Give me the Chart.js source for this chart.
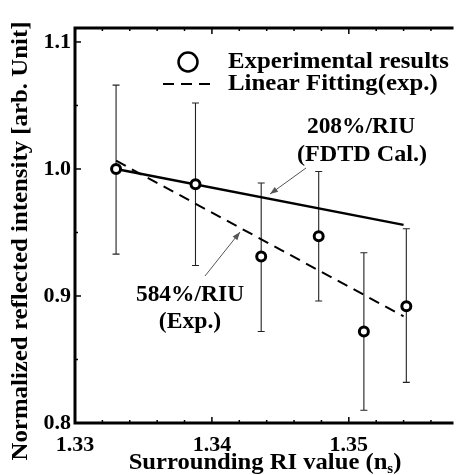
<!DOCTYPE html>
<html>
<head>
<meta charset="utf-8">
<script src="https://cdn.jsdelivr.net/npm/chart.js@4/dist/chart.umd.min.js"></script>
<style>
  html, body { margin: 0; padding: 0; background: #fff; overflow: hidden; }
  #wrap { width: 459px; height: 475px; position: relative; }
</style>
</head>
<body>
<div id="wrap"><canvas id="c"></canvas></div>
<script>
// Measured reflected intensity versus surrounding refractive index
const riValues   = [1.333, 1.3388, 1.3436, 1.3478, 1.3511, 1.3542];
const intensity  = [1.000, 0.988, 0.931, 0.947, 0.872, 0.892];
const errUpper   = [1.066, 1.052, 0.989, 0.998, 0.934, 0.953];
const errLower   = [0.933, 0.924, 0.872, 0.896, 0.810, 0.832];

// FDTD calculation (208%/RIU) and linear fit of the experiment (584%/RIU)
const fdtdX = [1.333, 1.354];
const fdtdY = [1.000, 0.956];
const fitX  = [1.333, 1.354];
const fitY  = [1.0065, 0.884];

// Axis ticks
const xTicks = [1.33, 1.34, 1.35];
const yTicks = [0.8, 0.9, 1.0, 1.1];
const xMinorStep = 0.002;
const yMinorStep = 0.05;

const FONT = '"Liberation Serif", "Times New Roman", serif';

const toPoints = (xs, ys) => xs.map((x, i) => ({ x: x, y: ys[i] }));

// text drawn with a slight horizontal stretch (wide book-style serif look)
function stretchedText(ctx, text, x, y, align, sx) {
  ctx.save();
  ctx.translate(x, y);
  ctx.scale(sx, 1);
  ctx.textAlign = align;
  ctx.fillText(text, 0, 0);
  ctx.restore();
}

// Error bars, frame, inward ticks, legend, axis titles and annotations
const decorations = {
  id: 'decorations',
  beforeDatasetsDraw(chart) {
    const ctx = chart.ctx;
    const xs = chart.scales.x, ys = chart.scales.y;
    ctx.save();
    ctx.strokeStyle = '#222';
    ctx.lineWidth = 1.1;
    riValues.forEach((v, i) => {
      const px = xs.getPixelForValue(v);
      const top = ys.getPixelForValue(errUpper[i]);
      const bot = ys.getPixelForValue(errLower[i]);
      ctx.beginPath();
      ctx.moveTo(px, top); ctx.lineTo(px, bot);
      ctx.moveTo(px - 3.5, top); ctx.lineTo(px + 3.5, top);
      ctx.moveTo(px - 3.5, bot); ctx.lineTo(px + 3.5, bot);
      ctx.stroke();
    });
    ctx.restore();
  },
  afterDraw(chart) {
    const ctx = chart.ctx;
    const a = chart.chartArea;
    const xs = chart.scales.x, ys = chart.scales.y;
    ctx.save();

    // frame: left, bottom, top
    ctx.strokeStyle = '#000';
    ctx.lineWidth = 3;
    ctx.beginPath();
    ctx.moveTo(a.right + 2, a.top);
    ctx.lineTo(a.left, a.top);
    ctx.lineTo(a.left, a.bottom);
    ctx.lineTo(a.right + 2, a.bottom);
    ctx.stroke();

    // inward ticks on bottom and top
    ctx.lineWidth = 1.5;
    for (let k = 0; ; k++) {
      const v = xs.min + k * xMinorStep;
      if (v > xs.max + 1e-9) break;
      const major = xTicks.some(t => Math.abs(t - v) < 1e-6);
      const len = major ? 6 : 3;
      const px = xs.getPixelForValue(v);
      ctx.beginPath();
      ctx.moveTo(px, a.bottom); ctx.lineTo(px, a.bottom - len);
      ctx.moveTo(px, a.top); ctx.lineTo(px, a.top + len);
      ctx.stroke();
    }
    // inward ticks on the left
    for (let k = 0; ; k++) {
      const v = ys.min + k * yMinorStep;
      if (v > ys.max + 1e-9) break;
      const major = yTicks.some(t => Math.abs(t - v) < 1e-6);
      const len = major ? 6 : 3;
      const py = ys.getPixelForValue(v);
      ctx.beginPath();
      ctx.moveTo(a.left, py); ctx.lineTo(a.left + len, py);
      ctx.stroke();
    }

    // legend
    ctx.fillStyle = '#000';
    ctx.strokeStyle = '#000';
    ctx.lineWidth = 2.5;
    ctx.beginPath();
    ctx.arc(188, 62, 9.5, 0, Math.PI * 2);
    ctx.stroke();
    ctx.lineWidth = 2;
    ctx.setLineDash([11, 7]);
    ctx.beginPath();
    ctx.moveTo(163, 84); ctx.lineTo(216, 84);
    ctx.stroke();
    ctx.setLineDash([]);
    ctx.font = 'bold 23px ' + FONT;
    ctx.textBaseline = 'middle';
    stretchedText(ctx, 'Experimental results', 228, 62, 'left', 1.08);
    stretchedText(ctx, 'Linear Fitting(exp.)', 228, 84, 'left', 1.08);

    // annotations with arrows
    stretchedText(ctx, '208%/RIU', 361, 127, 'center', 1.02);
    stretchedText(ctx, '(FDTD Cal.)', 362, 155, 'center', 1.05);
    stretchedText(ctx, '584%/RIU', 190, 295, 'center', 1.02);
    stretchedText(ctx, '(Exp.)', 190, 322, 'center', 1.03);
    const arrow = (x0, y0, x1, y1) => {
      ctx.strokeStyle = '#555';
      ctx.fillStyle = '#555';
      ctx.lineWidth = 1;
      ctx.beginPath();
      ctx.moveTo(x0, y0); ctx.lineTo(x1, y1);
      ctx.stroke();
      const ang = Math.atan2(y1 - y0, x1 - x0);
      const L = 8, W = 3;
      ctx.beginPath();
      ctx.moveTo(x1, y1);
      ctx.lineTo(x1 - L * Math.cos(ang) + W * Math.sin(ang), y1 - L * Math.sin(ang) - W * Math.cos(ang));
      ctx.lineTo(x1 - L * Math.cos(ang) - W * Math.sin(ang), y1 - L * Math.sin(ang) + W * Math.cos(ang));
      ctx.closePath();
      ctx.fill();
    };
    arrow(306, 168, 270, 194);
    arrow(205, 276, 240, 232);

    // x axis title with subscript
    const SX = 1.07;
    ctx.fillStyle = '#000';
    ctx.textBaseline = 'alphabetic';
    const main = 'Surrounding RI value (n';
    const sub = 's';
    const close = ')';
    ctx.font = 'bold 23px ' + FONT;
    const wMain = ctx.measureText(main).width * SX;
    const wClose = ctx.measureText(close).width * SX;
    ctx.font = 'bold 14px ' + FONT;
    const wSub = ctx.measureText(sub).width * SX;
    const total = wMain + wSub + wClose;
    const tx = 265 - total / 2;
    const base = 469;
    ctx.font = 'bold 23px ' + FONT;
    stretchedText(ctx, main, tx, base, 'left', SX);
    ctx.font = 'bold 14px ' + FONT;
    stretchedText(ctx, sub, tx + wMain, base + 4, 'left', SX);
    ctx.font = 'bold 23px ' + FONT;
    stretchedText(ctx, close, tx + wMain + wSub, base, 'left', SX);

    // y axis title
    ctx.translate(27, 241);
    ctx.rotate(-Math.PI / 2);
    stretchedText(ctx, 'Normalized reflected intensity [arb. Unit]', 0, 0, 'center', 1.08);
    ctx.restore();
  }
};

new Chart(document.getElementById('c'), {
  type: 'scatter',
  data: {
    datasets: [
      {
        label: 'Experimental results',
        data: toPoints(riValues, intensity),
        pointStyle: 'circle',
        pointRadius: 4.5,
        pointHoverRadius: 4.5,
        pointBorderWidth: 3,
        pointBackgroundColor: '#fff',
        pointBorderColor: '#000',
        showLine: false,
        order: 0
      },
      {
        label: 'FDTD Cal.',
        data: toPoints(fdtdX, fdtdY),
        showLine: true,
        borderColor: '#000',
        borderWidth: 2.5,
        pointRadius: 0,
        order: 1
      },
      {
        label: 'Linear Fitting(exp.)',
        data: toPoints(fitX, fitY),
        showLine: true,
        borderColor: '#000',
        borderWidth: 2,
        borderDash: [11, 7],
        pointRadius: 0,
        order: 2
      }
    ]
  },
  options: {
    responsive: true,
    maintainAspectRatio: false,
    animation: false,
    events: [],
    layout: { padding: { top: 28, right: 0, left: 0, bottom: 0 } },
    plugins: { legend: { display: false }, tooltip: { enabled: false } },
    scales: {
      x: {
        type: 'linear',
        min: 1.33,
        max: 1.3575,
        afterFit: s => { s.height = 52; },
        afterBuildTicks: s => { s.ticks = xTicks.map(v => ({ value: v })); },
        grid: { display: false, drawTicks: false },
        border: { display: false },
        ticks: {
          color: '#000',
          padding: 9,
          font: { family: FONT, size: 22, weight: 'bold' },
          callback: v => v.toFixed(2)
        }
      },
      y: {
        type: 'linear',
        min: 0.8,
        max: 1.111,
        afterFit: s => { s.width = 75; },
        afterBuildTicks: s => { s.ticks = yTicks.map(v => ({ value: v })); },
        grid: { display: false, drawTicks: false },
        border: { display: false },
        ticks: {
          color: '#000',
          padding: 4,
          font: { family: FONT, size: 22, weight: 'bold' },
          callback: v => v.toFixed(1)
        }
      }
    }
  },
  plugins: [decorations]
});
</script>
</body>
</html>
